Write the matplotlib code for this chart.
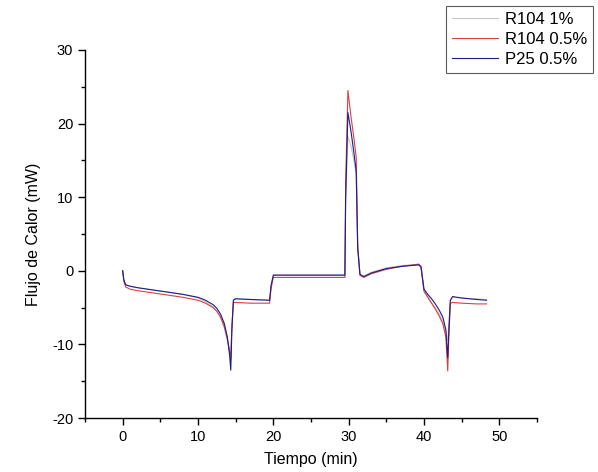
import matplotlib
matplotlib.use("Agg")
import matplotlib.pyplot as plt
from matplotlib.ticker import MultipleLocator

plt.rcParams['font.family'] = ['Liberation Sans', 'DejaVu Sans']
plt.rcParams['axes.unicode_minus'] = False

series_names = ["R104 1%", "R104 0.5%", "P25 0.5%"]
series_colors = ["#c8c8c8", "#d84040", "#1c1c8a"]

time_min = [0, 0.15, 0.4, 1, 2, 4, 6, 8, 10, 11, 12, 12.5, 13, 13.5, 13.9, 14.2,
            14.35, 14.5, 14.7, 15, 17, 19.5, 19.7, 20, 25, 29.5, 29.6, 29.9, 30.3,
            30.7, 31.0, 31.2, 31.5, 32.0, 33, 35, 37, 39.3, 39.6, 40.0, 40.5, 41,
            41.5, 42, 42.5, 42.9, 43.15, 43.3, 43.5, 43.8, 45, 47, 48.3]

flux_r104_1 = [0, -1.2, -1.9, -2.1, -2.3, -2.6, -2.9, -3.2, -3.7, -4.2, -4.9, -5.5,
               -6.4, -7.8, -9.5, -10.8, -11.0, -7.5, -3.9, -3.8, -3.9, -4.0, -2.0,
               -0.5, -0.5, -0.5, 9.0, 18.3, 17.0, 15.0, 13.0, 3.0, -0.4, -0.7, -0.2,
               0.4, 0.7, 0.9, 0.6, -2.6, -3.5, -4.3, -5.0, -5.8, -6.8, -8.3, -9.5,
               -7.0, -4.0, -3.6, -3.7, -3.8, -3.9]

flux_r104_05 = [0, -1.4, -2.2, -2.5, -2.7, -3.0, -3.3, -3.6, -4.0, -4.4, -5.0,
                -5.5, -6.3, -7.6, -9.3, -11.0, -12.0, -7.5, -4.3, -4.3, -4.4, -4.4,
                -2.4, -0.9, -0.9, -0.9, 12.0, 24.5, 21.0, 18.0, 15.4, 3.5, -0.6,
                -0.9, -0.4, 0.2, 0.6, 0.9, 0.6, -2.8, -3.6, -4.4, -5.2, -6.1, -7.2,
                -9.0, -13.6, -9.0, -4.4, -4.3, -4.4, -4.5, -4.5]

flux_p25_05 = [0, -1.2, -1.9, -2.1, -2.3, -2.6, -2.9, -3.2, -3.6, -4.0, -4.6,
               -5.1, -5.9, -7.2, -9.0, -11.5, -13.5, -8.0, -4.0, -3.8, -3.9, -4.0,
               -2.0, -0.6, -0.6, -0.6, 10.0, 21.5, 19.0, 16.0, 13.5, 3.0, -0.5,
               -0.8, -0.3, 0.3, 0.6, 0.8, 0.5, -2.5, -3.2, -3.8, -4.5, -5.3, -6.3,
               -8.0, -11.8, -8.0, -4.0, -3.5, -3.7, -3.9, -4.0]

series_values = [flux_r104_1, flux_r104_05, flux_p25_05]

fig = plt.figure(figsize=(5.98, 4.72), dpi=100)
ax = fig.add_axes([85/598, 1-418/472, (537-85)/598, (418-50)/472])

lines = []
for name, color, vals in zip(series_names, series_colors, series_values):
    ln, = ax.plot(time_min, vals, color=color, lw=0.8, label=name)
    lines.append(ln)

ax.set_xlim(-5, 55)
ax.set_ylim(-20, 30)
ax.xaxis.set_major_locator(MultipleLocator(10))
ax.xaxis.set_minor_locator(MultipleLocator(5))
ax.yaxis.set_major_locator(MultipleLocator(10))
ax.yaxis.set_minor_locator(MultipleLocator(5))
for s in ['top', 'right']:
    ax.spines[s].set_visible(False)
for s in ['left', 'bottom']:
    ax.spines[s].set_linewidth(1.0)
ax.tick_params(which='major', direction='out', length=5, width=1.0, labelsize=10.5)
ax.tick_params(which='minor', direction='out', length=3, width=1.0)

ax.set_xlabel("Tiempo (min)", fontsize=11.5, labelpad=6)
ax.set_ylabel("Flujo de Calor (mW)", fontsize=11.5, labelpad=8)

leg = fig.legend(handles=lines, loc='upper right', bbox_to_anchor=(593/598, 1-6/472),
                 fontsize=12, frameon=True, fancybox=False, handlelength=2.8,
                 borderpad=0.35, labelspacing=0.3, handletextpad=0.4, borderaxespad=0)
leg.get_frame().set_edgecolor('#333333')
leg.get_frame().set_linewidth(0.8)

fig.savefig("out.png", dpi=100)
